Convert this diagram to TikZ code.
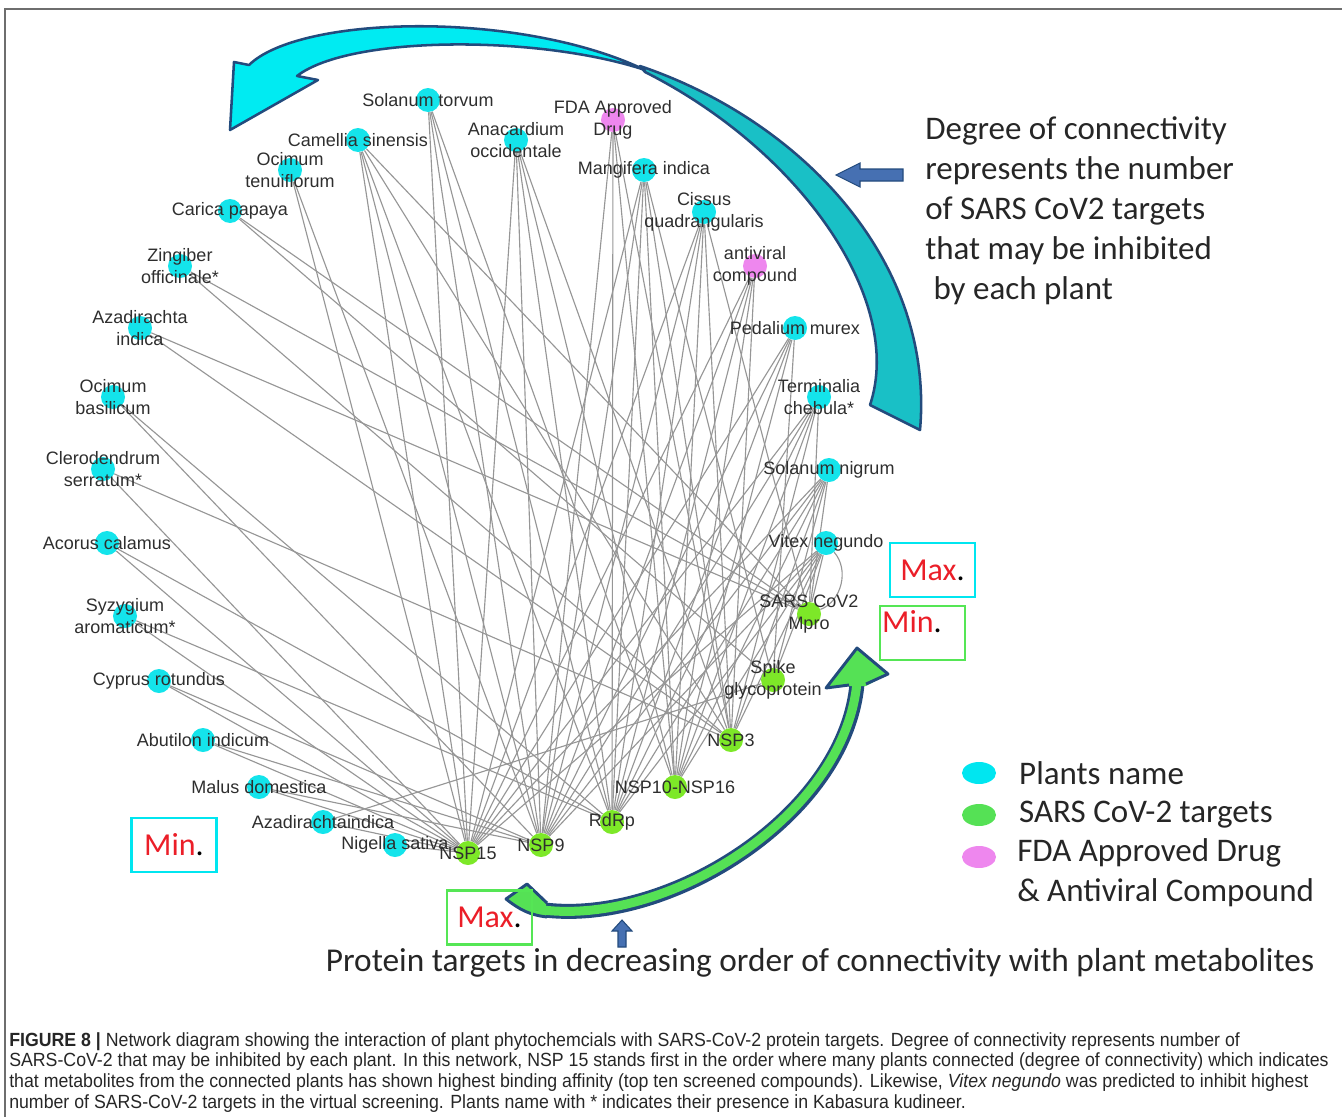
\documentclass[tikz,border=0pt]{standalone}
\usepackage{fontspec}
\setmainfont{Liberation Sans}
\newfontfamily\calibfont{Carlito}
\newfontfamily\capfont[FakeStretch=0.93]{Liberation Sans}
\usepackage{xcolor}
\usepackage{tikz}
\usetikzlibrary{positioning,shapes.geometric,backgrounds}

\definecolor{plantcyan}{RGB}{20,228,235}
\definecolor{targetgreen}{RGB}{125,232,40}
\definecolor{drugpink}{RGB}{238,135,238}
\definecolor{edgegray}{RGB}{150,150,150}
\definecolor{arrowblue}{RGB}{35,75,125}
\definecolor{bandcyan}{RGB}{0,235,242}
\definecolor{bandteal}{RGB}{25,192,198}
\definecolor{bandgreen}{RGB}{85,225,85}
\definecolor{smallblue}{RGB}{70,112,178}
\definecolor{boxcyan}{RGB}{0,230,240}
\definecolor{boxgreen}{RGB}{85,230,85}
\definecolor{minred}{RGB}{235,30,40}
\definecolor{framegray}{RGB}{110,110,110}

\begin{document}
\begin{tikzpicture}[x=0.75pt, y=-0.75pt, every node/.style={inner sep=0pt},
    vert/.style={circle, minimum size=18pt},
    plant/.style={vert, fill=plantcyan},
    target/.style={vert, fill=targetgreen},
    drug/.style={vert, fill=drugpink},
    lbl/.style={font=\fontsize{13.5}{17}\selectfont, text=black!82, align=center},
    link/.style={draw=edgegray, line width=0.85pt},
    maxmin/.style={draw, line width=2.2pt, minimum width=63.75pt, minimum height=40.5pt},
    mmtxt/.style={font=\calibfont\fontsize{24}{28}\selectfont},
    bigtxt/.style={font=\calibfont\fontsize{24.75}{30}\selectfont, text=black!85, align=left},
    legdot/.style={ellipse, minimum width=25.5pt, minimum height=16.5pt},
    capstyle/.style={font=\capfont\fontsize{14.3}{15.6}\selectfont, text=black!85, align=left}]
  \useasboundingbox (0,0) rectangle (1342,1117);
  \draw[framegray, line width=1.1pt] (1342,9) -- (5,9) -- (5,1117);

  % plants, left side of the ring
  \node[plant, label={[lbl]center:Solanum torvum}] (storv) at (428,100) {};
  \node[plant, label={[lbl]center:Camellia sinensis}] (camel) at (358,140) {};
  \node[plant, label={[lbl]center:Ocimum\\tenuiflorum}] (otenu) at (290,170) {};
  \node[plant, label={[lbl]center:Carica papaya}] (carica) at (230,211) {};
  \node[plant, label={[lbl]center:Zingiber\\officinale*}] (zingi) at (180,266) {};
  \node[plant, label={[lbl]center:Azadirachta\\indica}] (azadi) at (140,328) {};
  \node[plant, label={[lbl]center:Ocimum\\basilicum}] (obasi) at (113,397) {};
  \node[plant, label={[lbl]center:Clerodendrum\\serratum*}] (clero) at (103,469) {};
  \node[plant, label={[lbl]center:Acorus calamus}] (acorus) at (107,543) {};
  \node[plant, label={[lbl]center:Syzygium\\aromaticum*}] (syzy) at (125,616) {};
  \node[plant, label={[lbl]center:Cyprus rotundus}] (cyprus) at (159,681) {};
  \node[plant, label={[lbl]center:Abutilon indicum}] (abuti) at (203,740) {};
  \node[plant, label={[lbl]center:Malus domestica}] (malus) at (259,787) {};
  \node[plant, label={[lbl]center:Azadirachtaindica}] (azind) at (323,822) {};
  \node[plant, label={[lbl]center:Nigella sativa}] (nigel) at (395,845) {};

  % SARS-CoV-2 targets
  \node[target, label={[lbl]center:NSP15}] (nsp15) at (468,853) {};
  \node[target, label={[lbl]center:NSP9}] (nsp9) at (541,845) {};
  \node[target, label={[lbl]center:RdRp}] (rdrp) at (612,822) {};
  \node[target, label={[lbl]center:NSP10-NSP16}] (nsp10) at (675,787) {};
  \node[target, label={[lbl]center:NSP3}] (nsp3) at (731,740) {};
  \node[target, label={[lbl]center:Spike\\glycoprotein}] (spike) at (773,680) {};
  \node[target, label={[lbl]center:SARS CoV2\\Mpro}] (mpro) at (809,614) {};

  % plants and drugs, right side of the ring
  \node[plant, label={[lbl]center:Vitex negundo}] (vitex) at (826,543) {};
  \node[plant, label={[lbl]center:Solanum nigrum}] (snigr) at (829,470) {};
  \node[plant, label={[lbl]center:Terminalia\\chebula*}] (termi) at (819,397) {};
  \node[plant, label={[lbl]center:Pedalium murex}] (pedal) at (795,328) {};
  \node[drug, label={[lbl]center:antiviral\\compound}] (antiv) at (755,266) {};
  \node[plant, label={[lbl]center:Cissus\\quadrangularis}] (cissus) at (704,212) {};
  \node[plant, label={[lbl]center:Mangifera indica}] (mangi) at (644,170) {};
  \node[drug, label={[lbl]center:FDA Approved\\Drug}] (fda) at (613,120) {};
  \node[plant, label={[lbl]center:Anacardium\\occidentale}] (anac) at (516,140) {};

  \begin{scope}[on background layer]
    \foreach \p/\t in {storv/nsp15, storv/nsp9, storv/rdrp, storv/nsp10,
        camel/nsp15, camel/nsp9, camel/rdrp, camel/nsp3, camel/mpro,
        otenu/nsp15, otenu/nsp9, carica/spike, carica/mpro,
        zingi/nsp3, zingi/mpro, azadi/nsp3, azadi/mpro,
        obasi/nsp9, obasi/rdrp, clero/nsp15, clero/nsp3,
        acorus/nsp15, acorus/rdrp, syzy/nsp15, syzy/rdrp,
        cyprus/nsp15, cyprus/nsp9, abuti/nsp15, abuti/nsp9,
        malus/nsp15, malus/nsp9, azind/nsp15, azind/spike, nigel/nsp15,
        anac/nsp15, anac/nsp9, anac/rdrp, anac/nsp10, anac/nsp3,
        fda/nsp9, fda/rdrp, fda/nsp10, fda/nsp3,
        mangi/nsp15, mangi/nsp9, mangi/rdrp, mangi/nsp10, mangi/nsp3, mangi/spike,
        cissus/nsp15, cissus/nsp9, cissus/rdrp, cissus/nsp10, cissus/nsp3, cissus/mpro,
        antiv/nsp15, antiv/nsp9, antiv/rdrp, antiv/nsp10, antiv/nsp3,
        pedal/nsp15, pedal/nsp9, pedal/rdrp, pedal/nsp10, pedal/spike,
        termi/nsp15, termi/nsp9, termi/rdrp, termi/nsp10, termi/nsp3, termi/mpro,
        snigr/nsp15, snigr/nsp9, snigr/rdrp, snigr/nsp10, snigr/nsp3, snigr/spike, snigr/mpro,
        vitex/nsp15, vitex/nsp9, vitex/rdrp, vitex/nsp10, vitex/nsp3, vitex/spike, vitex/mpro}
      \draw[link] (\p) -- (\t);
    \draw[link] (vitex) to[bend left=55] (mpro);
  \end{scope}

  % curved band over the top (degree of the plants)
  \filldraw[fill=bandteal, draw=arrowblue, line width=1.9pt, line join=round]
    (640,66) .. controls (800,120) and (935,260) .. (920,430) -- (870,405)
    .. controls (905,300) and (800,150) .. (645,72) -- cycle;
  \filldraw[fill=bandcyan, draw=arrowblue, line width=1.9pt, line join=round]
    (230,130) -- (234,62) -- (249,65) .. controls (300,15) and (520,10) .. (645,70)
    .. controls (540,35) and (350,35) .. (297,76) -- (318,80) -- cycle;

  % curved band along the bottom (order of the targets)
  \draw[arrowblue, line width=11.25pt] (545,910) .. controls (670,925) and (845,815) .. (857,684);
  \draw[bandgreen, line width=6.75pt] (543,910) .. controls (670,925) and (845,815) .. (857,682);
  \fill[bandgreen] (866,686) -- (888,674) -- (857,648) -- (826,688) -- (848,686) -- cycle;
  \draw[arrowblue, line width=2.2pt, line join=round] (866,684) -- (888,674) -- (857,648) -- (826,688) -- (849,685);
  \fill[bandgreen] (546,902) -- (527,884) -- (506,899) .. controls (520,910) and (530,915) .. (546,917) -- cycle;
  \draw[arrowblue, line width=2.2pt, line join=round] (547,903) -- (527,884) -- (506,899) .. controls (520,910) and (530,915) .. (547,917);

  % small pointers
  \filldraw[fill=smallblue, draw=arrowblue, line width=0.8pt]
    (836,175) -- (860,163) -- (860,169) -- (903,169) -- (903,181) -- (860,181) -- (860,187) -- cycle;
  \filldraw[fill=smallblue, draw=arrowblue, line width=0.8pt]
    (622,920) -- (632,931) -- (626,931) -- (626,947) -- (618,947) -- (618,931) -- (612,931) -- cycle;

  % min / max boxes
  \node[maxmin, draw=boxcyan, mmtxt] (maxr) at (932.5,570) {\textcolor{minred}{Max}.};
  \node[maxmin, draw=boxgreen] (minr) at (922.5,633) {};
  \node[mmtxt] (minrtxt) at (912,622) {\textcolor{minred}{Min}.};
  \node[maxmin, draw=boxcyan, mmtxt] (minl) at (174,845) {\textcolor{minred}{Min}.};
  \node[maxmin, draw=boxgreen, mmtxt] (maxb) at (489.5,917.5) {\textcolor{minred}{Max}.};

  \node[bigtxt, anchor=north west] (degtxt) at (925,116)
    {Degree of connectivity\\represents the number\\of SARS CoV2 targets\\that may be inhibited\\\hspace*{0.25em}by each plant};
  \node[bigtxt, font=\calibfont\fontsize{25}{30}\selectfont] (prot) at (820,963) {Protein targets in decreasing order of connectivity with plant metabolites};

  % legend
  \node[legdot, fill=boxcyan] (kplant) at (979,773) {};
  \node[bigtxt, right=17pt of kplant] (kplanttxt) {Plants name};
  \node[legdot, fill=bandgreen] (ktarget) at (979,815) {};
  \node[bigtxt, right=17pt of ktarget] (ktargettxt) {SARS CoV-2 targets};
  \node[legdot, fill=drugpink] (kdrug) at (979,857) {};
  \node[bigtxt, anchor=north west] (kdrugtxt) at (1017,838) {FDA Approved Drug\\\& Antiviral Compound};

  \node[capstyle, anchor=north west] (cap) at (9,1032)
    {\textbf{FIGURE 8 |} Network diagram showing the interaction of plant phytochemcials with SARS-CoV-2 protein targets. Degree of connectivity represents number of\\
     SARS-CoV-2 that may be inhibited by each plant. In this network, NSP 15 stands first in the order where many plants connected (degree of connectivity) which indicates\\
     that metabolites from the connected plants has shown highest binding affinity (top ten screened compounds). Likewise, \textit{Vitex negundo} was predicted to inhibit highest\\
     number of SARS-CoV-2 targets in the virtual screening. Plants name with * indicates their presence in Kabasura kudineer.};
\end{tikzpicture}
\end{document}
